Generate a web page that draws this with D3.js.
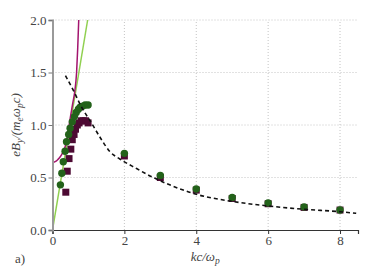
<!DOCTYPE html>
<html>
<head>
<meta charset="utf-8">
<script src="https://cdn.jsdelivr.net/npm/d3@7"></script>
<style>
  html, body { margin: 0; padding: 0; background: #fff; }
  svg { display: block; }
</style>
</head>
<body>
<svg id="chart" width="374" height="280"></svg>
<script>
// ---- data ----
const xTicks = [0, 2, 4, 6, 8];
const yTicks = [0.0, 0.5, 1.0, 1.5, 2.0];

// green circles
const circleK = [0.22, 0.26, 0.30, 0.35, 0.39, 0.45, 0.49, 0.55, 0.61, 0.66, 0.72, 0.77, 0.84, 0.91, 0.99, 2, 3, 4, 5, 6, 7, 8];
const circleY = [0.43, 0.54, 0.65, 0.75, 0.84, 0.91, 0.97, 1.03, 1.08, 1.12, 1.15, 1.17, 1.18, 1.19, 1.19, 0.73, 0.52, 0.39, 0.31, 0.257, 0.22, 0.19];

// maroon squares
const squareK = [0.37, 0.41, 0.46, 0.51, 0.55, 0.60, 0.64, 0.69, 0.74, 0.80, 0.86, 0.92, 0.99, 2, 3, 4, 5, 6, 7, 8];
const squareY = [0.36, 0.56, 0.68, 0.77, 0.86, 0.91, 0.96, 1.00, 1.02, 1.04, 1.04, 1.04, 1.02, 0.705, 0.50, 0.38, 0.30, 0.25, 0.215, 0.19];

// magenta solid curve
const magentaK = [0, 0.05, 0.10, 0.16, 0.22, 0.28, 0.35, 0.42, 0.50, 0.56, 0.62, 0.67, 0.70, 0.73];
const magentaY = [0.645, 0.647, 0.655, 0.675, 0.70, 0.735, 0.79, 0.90, 1.08, 1.20, 1.32, 1.50, 1.72, 2.0];

// light green straight line
const limeK = [0, 0.978];
const limeY = [0, 2.0];

// black dashed curve
const dashK = [0.36, 0.58, 0.81, 1.09, 1.37, 1.60, 1.875, 2.34, 2.80, 3.26, 4.0, 4.93, 6.0, 7.0, 8.0, 8.45];
const dashY = [1.47, 1.33, 1.17, 1.016, 0.857, 0.745, 0.676, 0.585, 0.50, 0.43, 0.34, 0.276, 0.229, 0.197, 0.174, 0.159];

// ---- drawing ----
const FONT = "Liberation Serif";
const svg = d3.select("#chart");
const x = d3.scaleLinear().domain([0, 8.5]).range([52.5, 358]);
const y = d3.scaleLinear().domain([0, 2]).range([230, 20]);

svg.append("defs").append("clipPath").attr("id", "clip")
  .append("rect").attr("x", x(0)).attr("y", y(2) - 1)
  .attr("width", x(8.5) - x(0)).attr("height", y(0) - y(2) + 1);

// grid
const grid = svg.append("g");
grid.selectAll("line.v").data(xTicks.filter(d => d > 0)).enter().append("line")
  .attr("x1", d => x(d)).attr("x2", d => x(d)).attr("y1", y(0)).attr("y2", y(2))
  .attr("stroke", "#c4c4c4").attr("stroke-width", 1).attr("stroke-dasharray", "1,2");
grid.selectAll("line.h").data(yTicks.filter(d => d > 0)).enter().append("line")
  .attr("y1", d => y(d)).attr("y2", d => y(d)).attr("x1", x(0)).attr("x2", x(8.5))
  .attr("stroke", "#c4c4c4").attr("stroke-width", 1).attr("stroke-dasharray", "1,2");

const plot = svg.append("g").attr("clip-path", "url(#clip)");

plot.append("path").datum(limeK.map((k, i) => [k, limeY[i]]))
  .attr("d", d3.line().x(d => x(d[0])).y(d => y(d[1])))
  .attr("fill", "none").attr("stroke", "#90d050").attr("stroke-width", 1.5);
plot.append("path").datum(magentaK.map((k, i) => [k, magentaY[i]]))
  .attr("d", d3.line().x(d => x(d[0])).y(d => y(d[1])).curve(d3.curveMonotoneX))
  .attr("fill", "none").attr("stroke", "#a3146e").attr("stroke-width", 1.5);

// squares
const sq = 7;
plot.selectAll("rect.sq").data(squareK.map((k, i) => [k, squareY[i]])).enter().append("rect")
  .attr("x", d => x(d[0]) - sq / 2).attr("y", d => y(d[1]) - sq / 2)
  .attr("width", sq).attr("height", sq).attr("fill", "#4d0a33");

// circles
plot.selectAll("circle").data(circleK.map((k, i) => [k, circleY[i]])).enter().append("circle")
  .attr("cx", d => x(d[0])).attr("cy", d => y(d[1])).attr("r", 3.7).attr("fill", "#23621a");

// dashed
plot.append("path").datum(dashK.map((k, i) => [k, dashY[i]]))
  .attr("d", d3.line().x(d => x(d[0])).y(d => y(d[1])).curve(d3.curveMonotoneX))
  .attr("fill", "none").attr("stroke", "#111").attr("stroke-width", 1.6).attr("stroke-dasharray", "4,3");

// axes
const xAxis = svg.append("g").attr("transform", `translate(0,${y(0)})`)
  .call(d3.axisBottom(x).tickValues(xTicks).tickSize(4).tickPadding(2).tickFormat(d3.format("d")));
xAxis.select(".domain").attr("stroke", "#333").attr("stroke-width", 1.2);
xAxis.selectAll(".tick line").attr("stroke", "#333");
xAxis.selectAll(".tick text").attr("fill", "#444").attr("font-family", FONT).attr("font-size", 13);

const yAxis = svg.append("g").attr("transform", `translate(${x(0)},0)`)
  .call(d3.axisLeft(y).tickValues(yTicks).tickSize(4).tickPadding(2).tickFormat(d3.format(".1f")));
yAxis.select(".domain").attr("stroke", "#9a9a9a").attr("stroke-width", 2);
yAxis.selectAll(".tick line").attr("stroke", "#777");
yAxis.selectAll(".tick text").attr("fill", "#444").attr("font-family", FONT).attr("font-size", 13);

// x label
const xl = svg.append("text").attr("x", (x(0) + x(8.5)) / 2).attr("y", 261)
  .attr("text-anchor", "middle").attr("font-family", FONT).attr("font-style", "italic")
  .attr("font-size", 13).attr("fill", "#444");
xl.append("tspan").text("kc/ω");
xl.append("tspan").attr("dy", 3).attr("font-size", 9.5).text("p");

// y label
const yl = svg.append("text").attr("transform", `translate(20,${(y(0) + y(2)) / 2}) rotate(-90)`)
  .attr("text-anchor", "middle").attr("font-family", FONT).attr("font-style", "italic")
  .attr("font-size", 13).attr("fill", "#444");
yl.append("tspan").text("eB");
yl.append("tspan").attr("dy", 3).attr("font-size", 9.5).text("y");
yl.append("tspan").attr("dy", -3).text("/(m");
yl.append("tspan").attr("dy", 3).attr("font-size", 9.5).text("e");
yl.append("tspan").attr("dy", -3).text("ω");
yl.append("tspan").attr("dy", 3).attr("font-size", 9.5).text("p");
yl.append("tspan").attr("dy", -3).text("c)");

// panel label
svg.append("text").attr("x", 15).attr("y", 263).attr("font-family", FONT).attr("font-size", 13)
  .attr("fill", "#444").text("a)");
</script>
</body>
</html>
